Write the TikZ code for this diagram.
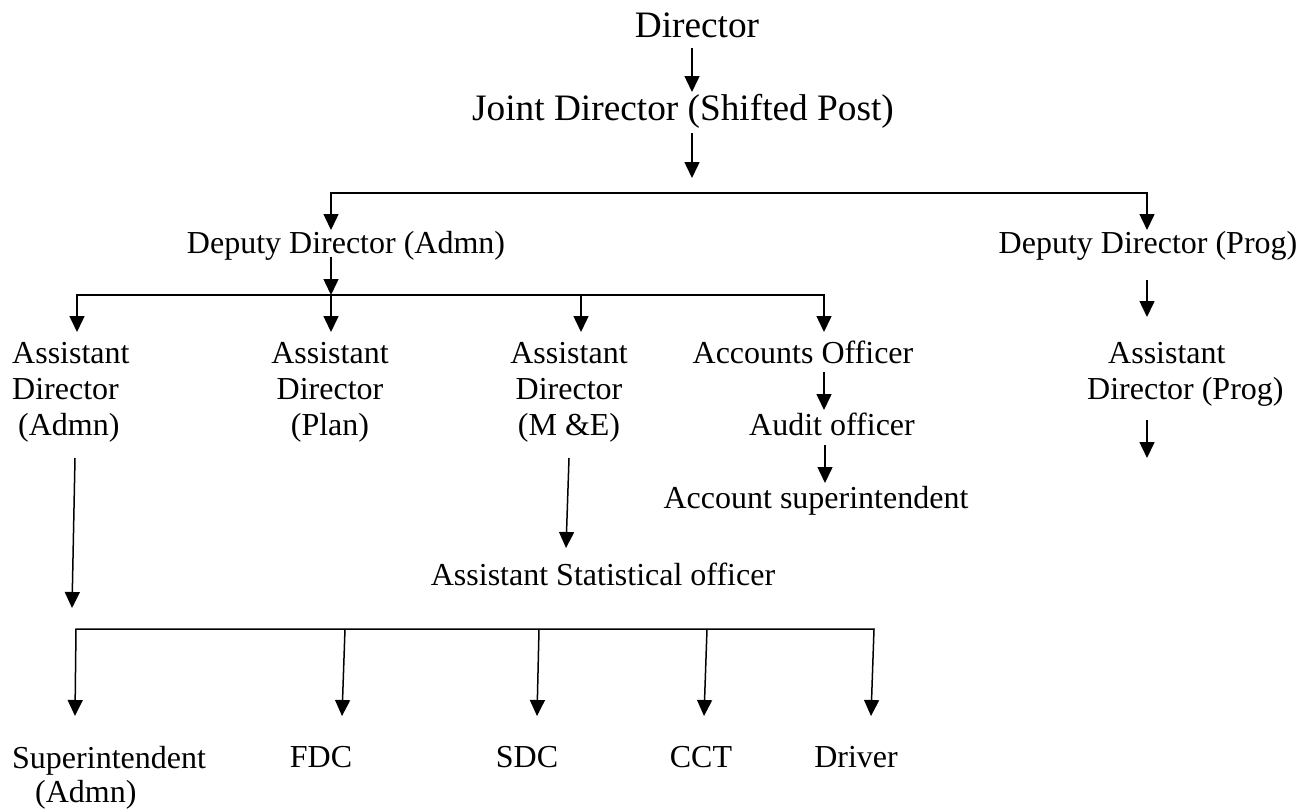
\documentclass[tikz,border=0pt]{standalone}
\usepackage{fontspec}
\setmainfont{Liberation Serif}
\usetikzlibrary{arrows.meta}
\begin{document}
\begin{tikzpicture}[x=1pt,y=-1pt,
  ttl/.style={inner sep=0pt,anchor=base,font=\fontsize{37.3}{44}\selectfont},
  lbl/.style={inner sep=0pt,anchor=base,font=\fontsize{32}{36}\selectfont},
  conn/.style={line width=1.5pt},
  arr/.style={conn,-{Triangle[width=15pt,length=16pt]}},
  arrs/.style={conn,{Triangle[width=15pt,length=16pt]}-{Triangle[width=15pt,length=16pt]}}]
\useasboundingbox (0,0) rectangle (1305,811);
% nodes
\node[ttl] (dir) at (697,37) {Director};
\node[ttl] (jd) at (683,120) {Joint Director (Shifted Post)};
\node[lbl] (dda) at (346,253) {Deputy Director (Admn)};
\node[lbl] (ddp) at (1148,253) {Deputy Director (Prog)};
\node[lbl,anchor=base west] (ada) at (12,363) {\begin{tabular}[t]{@{}l@{}}Assistant\\Director\\\hspace{6pt}(Admn)\end{tabular}};
\node[lbl] (adpl) at (330,363) {\begin{tabular}[t]{@{}c@{}}Assistant\\Director\\(Plan)\end{tabular}};
\node[lbl] (adme) at (569,363) {\begin{tabular}[t]{@{}c@{}}Assistant\\Director\\(M \&E)\end{tabular}};
\node[lbl] (ao) at (803,363) {Accounts Officer};
\node[lbl] (audit) at (832,435) {Audit officer};
\node[lbl] (asup) at (816,508) {Account superintendent};
\node[lbl,anchor=base west] (adpr) at (1087,363) {\begin{tabular}[t]{@{}l@{}}\hspace{21pt}Assistant\\Director (Prog)\end{tabular}};
\node[lbl] (aso) at (603,585) {Assistant Statistical officer};
\node[lbl,anchor=base west,font=\fontsize{32}{34}\selectfont] (sup) at (12,768) {\begin{tabular}[t]{@{}l@{}}Superintendent\\\hspace{23pt}(Admn)\end{tabular}};
\node[lbl] (fdc) at (321,767) {FDC};
\node[lbl] (sdc) at (527,767) {SDC};
\node[lbl] (cct) at (701,767) {CCT};
\node[lbl] (drv) at (856,767) {Driver};
% bus coordinates
\coordinate (b1m) at (692,193);
\coordinate (b1l) at (331,193);
\coordinate (b1r) at (1147,193);
\coordinate (b2a) at (77,295);
\coordinate (b2b) at (331,295);
\coordinate (b2c) at (581,295);
\coordinate (b2d) at (824,295);
\coordinate (b3a) at (76,629);
\coordinate (b3b) at (345,629);
\coordinate (b3c) at (539,629);
\coordinate (b3d) at (707,629);
\coordinate (b3e) at (874,629);
% connectors
\draw[arr] ([shift={(-5,11)}]dir.base) -- ([shift={(9,-28)}]jd.base);
\draw[arr] ([shift={(9,13)}]jd.base) -- ([yshift=15pt]b1m);
\draw[arrs] ([shift={(-15,-23)}]dda.base) -- (b1l) -- (b1r) -- ([shift={(-1,-23)}]ddp.base);
\draw[arr] ([shift={(-15,4)}]dda.base) -- (b2b);
\draw[arrs] ([shift={(65,-31)}]ada.base west) -- (b2a) -- (b2d) -- ([shift={(21,-31)}]ao.base);
\draw[arr] (b2b) -- ([shift={(1,-31)}]adpl.base);
\draw[arr] (b2c) -- ([shift={(12,-31)}]adme.base);
\draw[arr] ([shift={(21,9)}]ao.base) -- ([shift={(-8,-25)}]audit.base);
\draw[arr] ([shift={(-7,10)}]audit.base) -- ([shift={(9,-25)}]asup.base);
\draw[arr] ([shift={(-1,27)}]ddp.base) -- ([shift={(60,-46)}]adpr.base west);
\draw[arr] ([shift={(60,57)}]adpr.base west) -- ++(0,38);
\draw[arr] ([shift={(0,95)}]adme.base) -- ([shift={(-37,-37)}]aso.base);
\draw[arr] ([shift={(63,95)}]ada.base west) -- ++(-3,150);
\draw[arrs] ([shift={(63,-52)}]sup.base west) -- (b3a) -- (b3e) -- ([shift={(15,-51)}]drv.base);
\draw[arr] (b3b) -- ([shift={(21,-51)}]fdc.base);
\draw[arr] (b3c) -- ([shift={(10,-51)}]sdc.base);
\draw[arr] (b3d) -- ([shift={(3,-51)}]cct.base);
\end{tikzpicture}
\end{document}
